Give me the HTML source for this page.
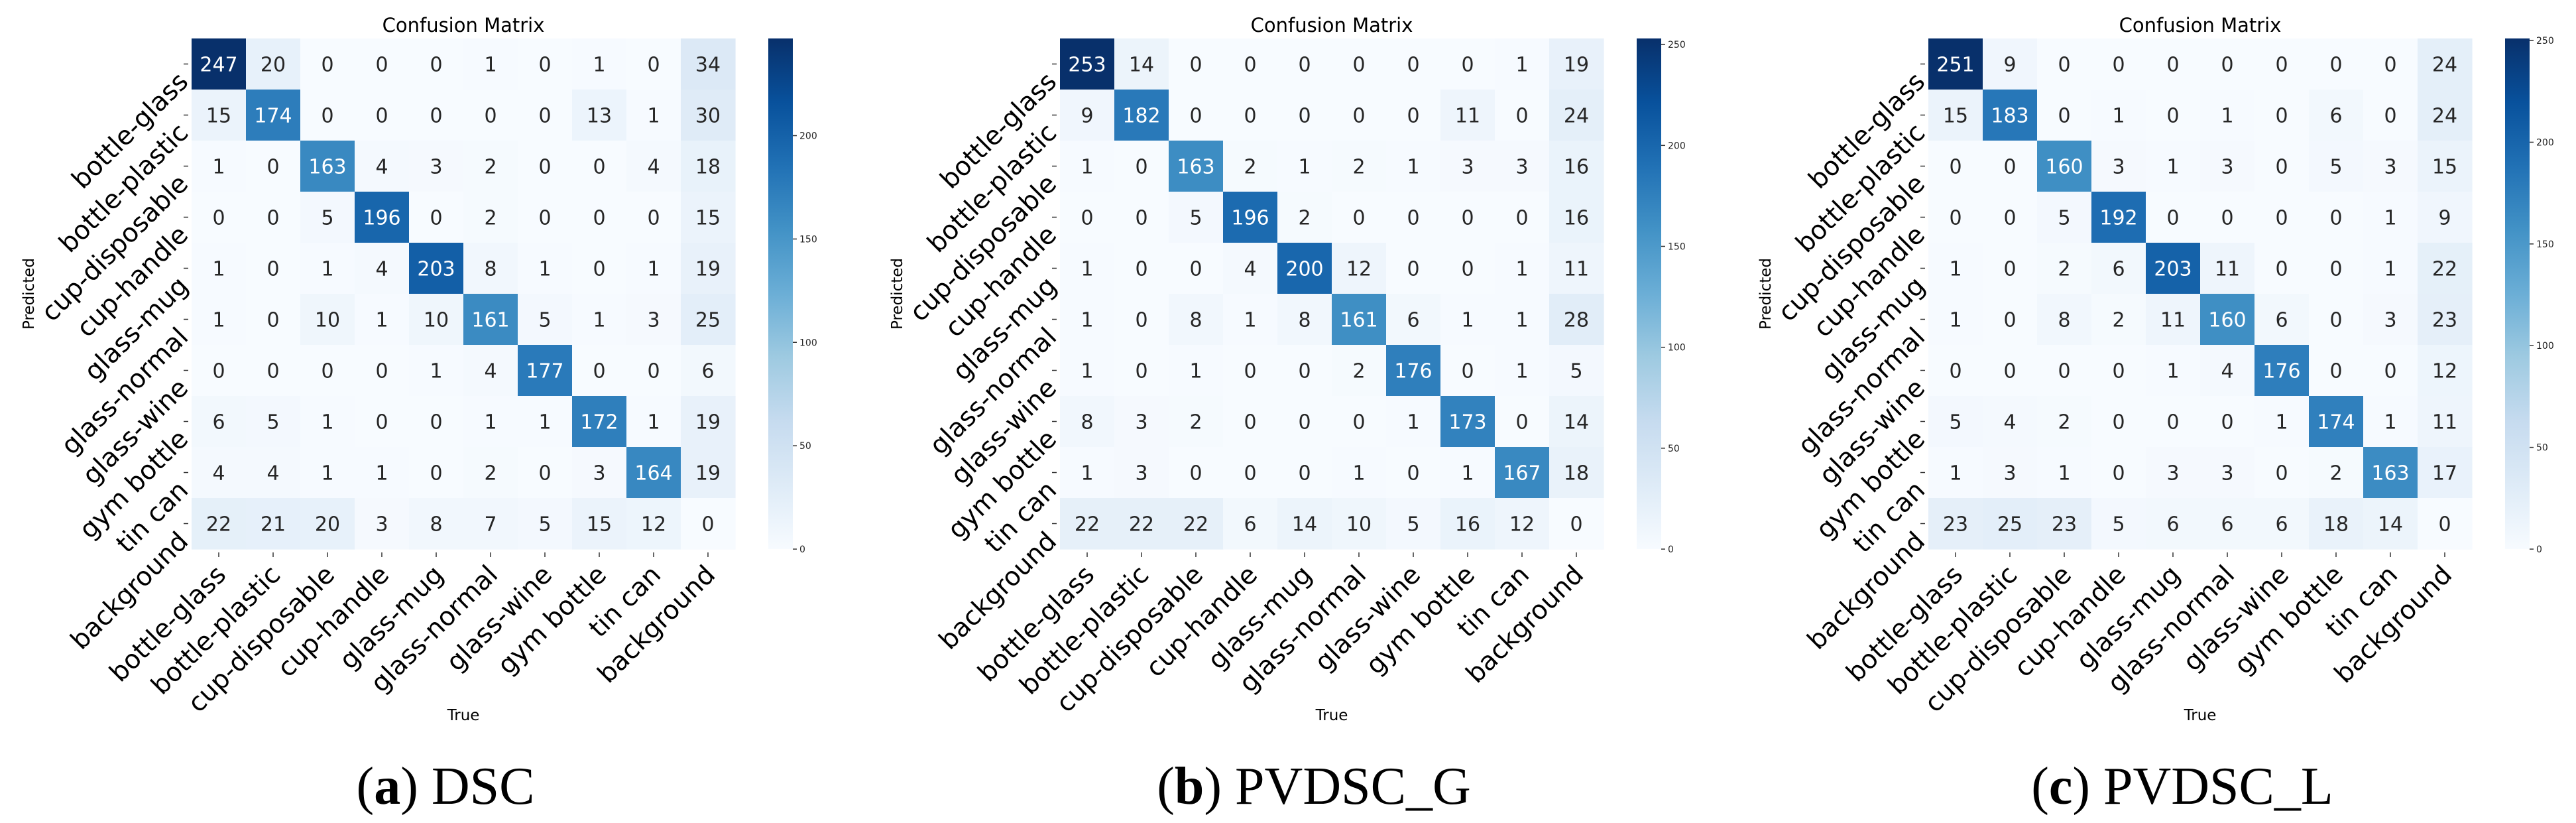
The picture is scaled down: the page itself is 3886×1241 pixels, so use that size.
<!DOCTYPE html>
<html><head><meta charset="utf-8">
<style>
html,body{margin:0;padding:0;background:#fff;}
svg{display:block;}
text{font-family:"DejaVu Sans","Liberation Sans",sans-serif;}
.cap{font-family:"Liberation Serif",serif;}
</style></head>
<body>
<svg id="fig" width="3886" height="1241" viewBox="0 0 3886 1241" xmlns="http://www.w3.org/2000/svg"></svg>
<script>
const labels = ["bottle-glass","bottle-plastic","cup-disposable","cup-handle","glass-mug","glass-normal","glass-wine","gym bottle","tin can","background"];
const matrixA = [
[247,20,0,0,0,1,0,1,0,34],
[15,174,0,0,0,0,0,13,1,30],
[1,0,163,4,3,2,0,0,4,18],
[0,0,5,196,0,2,0,0,0,15],
[1,0,1,4,203,8,1,0,1,19],
[1,0,10,1,10,161,5,1,3,25],
[0,0,0,0,1,4,177,0,0,6],
[6,5,1,0,0,1,1,172,1,19],
[4,4,1,1,0,2,0,3,164,19],
[22,21,20,3,8,7,5,15,12,0]];
const matrixB = [
[253,14,0,0,0,0,0,0,1,19],
[9,182,0,0,0,0,0,11,0,24],
[1,0,163,2,1,2,1,3,3,16],
[0,0,5,196,2,0,0,0,0,16],
[1,0,0,4,200,12,0,0,1,11],
[1,0,8,1,8,161,6,1,1,28],
[1,0,1,0,0,2,176,0,1,5],
[8,3,2,0,0,0,1,173,0,14],
[1,3,0,0,0,1,0,1,167,18],
[22,22,22,6,14,10,5,16,12,0]];
const matrixC = [
[251,9,0,0,0,0,0,0,0,24],
[15,183,0,1,0,1,0,6,0,24],
[0,0,160,3,1,3,0,5,3,15],
[0,0,5,192,0,0,0,0,1,9],
[1,0,2,6,203,11,0,0,1,22],
[1,0,8,2,11,160,6,0,3,23],
[0,0,0,0,1,4,176,0,0,12],
[5,4,2,0,0,0,1,174,1,11],
[1,3,1,0,3,3,0,2,163,17],
[23,25,23,5,6,6,6,18,14,0]];
const cbTicks = [0,50,100,150,200,250];
const captionsLetter = ["a","b","c"];
const captionsName = ["DSC","PVDSC_G","PVDSC_L"];

const NS="http://www.w3.org/2000/svg";
const svg=document.getElementById('fig');
const stops=[[247,251,255],[222,235,247],[198,219,239],[158,202,225],[107,174,214],[66,146,198],[33,113,181],[8,81,156],[8,48,107]];
function blues(t){t=Math.max(0,Math.min(1,t));const p=t*8;const i=Math.min(7,Math.floor(p));const f=p-i;
 const c=stops[i].map((v,k)=>Math.round(v+(stops[i+1][k]-v)*f));return c;}
function lum(c){const l=c.map(v=>{v/=255;return v<=0.03928?v/12.92:Math.pow((v+0.055)/1.055,2.4);});return 0.2126*l[0]+0.7152*l[1]+0.0722*l[2];}
function mk(tag,attrs,parent){const e=document.createElementNS(NS,tag);for(const k in attrs)e.setAttribute(k,attrs[k]);(parent||svg).appendChild(e);return e;}

const mats=[matrixA,matrixB,matrixC];
const names=["dsc","pvdsc-g","pvdsc-l"];
const W=820,H=770,TOPY=58;
mats.forEach((M,pi)=>{
 const L=289+pi*1310;
 const n=labels.length, cw=W/n, ch=H/n;
 let vmax=0;M.forEach(r=>r.forEach(v=>{if(v>vmax)vmax=v;}));
 const g=mk('g',{});
 
 
 const xs=j=>L+j*cw, ys=i=>TOPY+i*ch;
 M.forEach((row,i)=>row.forEach((v,j)=>{
  const c=blues(v/vmax);
  const r=mk('rect',{x:xs(j),y:ys(i),width:cw+0.6,height:ch+0.6,fill:`rgb(${c})`},g);
  
  
  const t=mk('text',{x:xs(j)+cw/2,y:ys(i)+ch/2+11,'text-anchor':'middle','font-size':30,fill:lum(c)>0.408?'#262626':'#ffffff'},g);
  
  
  t.textContent=v;
 }));
 labels.forEach((lab,i)=>{
  const cy=ys(i)+ch/2;
  mk('line',{x1:L-12,x2:L-5,y1:cy,y2:cy,stroke:'#333','stroke-width':1.5},g);
  const t=mk('text',{transform:`translate(${L-3},${cy+29}) rotate(-45)`,'text-anchor':'end','font-size':39,fill:'#000'},g);
  
  
  t.textContent=lab;
  const cx=xs(i)+cw/2;
  mk('line',{x1:cx,x2:cx,y1:TOPY+H+5,y2:TOPY+H+12,stroke:'#333','stroke-width':1.5},g);
  const t2=mk('text',{transform:`translate(${cx+13},${TOPY+H+41}) rotate(-45)`,'text-anchor':'end','font-size':39,fill:'#000'},g);
  
  
  t2.textContent=lab;
 });
 const title=mk('text',{x:L+W/2,y:48,'text-anchor':'middle','font-size':29,fill:'#000'},g);
 
 
 title.textContent='Confusion Matrix';
 const yl=mk('text',{transform:`translate(${L-238},${TOPY+H/2}) rotate(-90)`,'text-anchor':'middle','font-size':23,fill:'#000'},g);
 
 
 yl.textContent='Predicted';
 const xl=mk('text',{x:L+W/2,y:1086,'text-anchor':'middle','font-size':23,fill:'#000'},g);
 
 
 xl.textContent='True';
 const cbx=L+870, cbw=37;
 const grad=mk('linearGradient',{id:'cb'+pi,x1:0,y1:1,x2:0,y2:0},g);
 for(let k=0;k<=8;k++){mk('stop',{offset:k/8,'stop-color':`rgb(${stops[k]})`},grad);}
 const cb=mk('rect',{x:cbx,y:TOPY,width:cbw,height:H,fill:`url(#cb${pi})`},g);
 
 
 cbTicks.forEach(tv=>{
  if(tv>vmax)return;
  const y=TOPY+H-tv/vmax*H;
  mk('line',{x1:cbx+cbw,x2:cbx+cbw+6,y1:y,y2:y,stroke:'#333','stroke-width':1.5},g);
  const t=mk('text',{x:cbx+cbw+10,y:y+5,'font-size':14,fill:'#222'},g);
  
  
  t.textContent=tv;
 });
 const cap=mk('text',{x:L+383,y:1212,'text-anchor':'middle','font-size':80,fill:'#000','class':'cap'},g);
 
 
 cap.innerHTML='(<tspan font-weight="bold">'+captionsLetter[pi]+'</tspan>) '+captionsName[pi];
});
</script>
</body></html>
